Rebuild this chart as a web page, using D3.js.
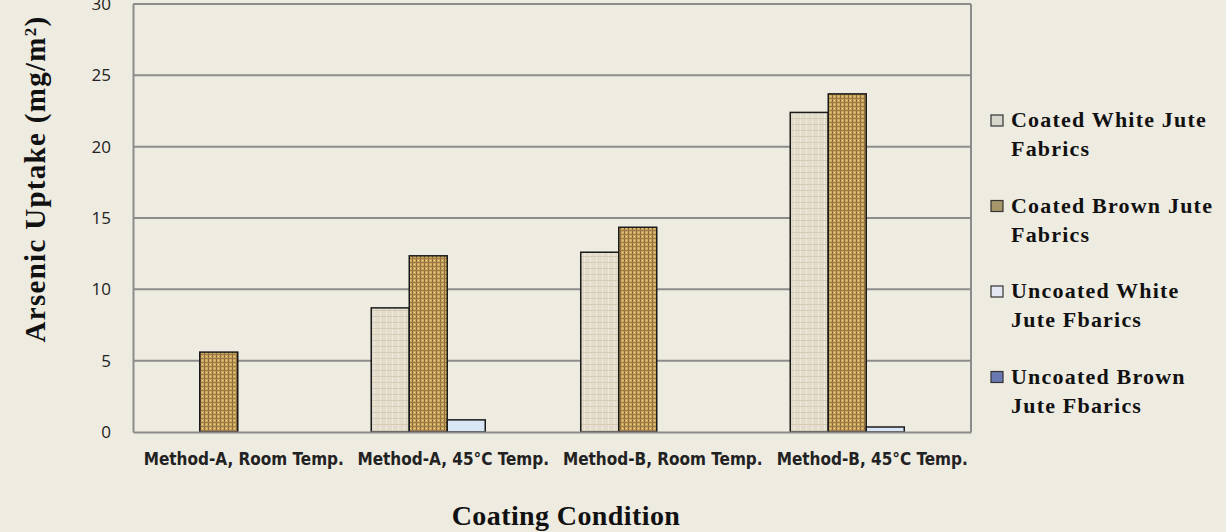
<!DOCTYPE html>
<html>
<head>
<meta charset="utf-8">
<script src="https://cdn.jsdelivr.net/npm/d3@7"></script>
<style>
  body { margin: 0; background: #eeebe1; }
  svg { display: block; }
</style>
</head>
<body>
<svg id="chart"></svg>
<script>
// chart values
var categories = ["Method-A, Room Temp.", "Method-A, 45°C Temp.", "Method-B, Room Temp.", "Method-B, 45°C Temp."];
var seriesNames = ["Coated White Jute Fabrics", "Coated Brown Jute Fabrics", "Uncoated White Jute Fbarics", "Uncoated Brown Jute Fbarics"];
var legendLines = [["Coated White Jute", "Fabrics"], ["Coated Brown Jute", "Fabrics"], ["Uncoated White", "Jute Fbarics"], ["Uncoated Brown", "Jute Fbarics"]];
var coatedWhite = [0, 8.7, 12.6, 22.4];
var coatedBrown = [5.6, 12.35, 14.35, 23.7];
var uncoatedWhite = [0, 0.85, 0, 0.35];
var uncoatedBrown = [0, 0, 0, 0];
var yTicks = [0, 5, 10, 15, 20, 25, 30];

var allSeries = [coatedWhite, coatedBrown, uncoatedWhite, uncoatedBrown];

var svg = d3.select("#chart");
var dims = { width: 1226, height: 532, left: 133, right: 971, top: 4, bottom: 432 };
svg.attr("width", dims.width).attr("height", dims.height);

//Textures for the bars
var defs = svg.append("defs");
var pw = defs.append("pattern").attr("id", "texWhite").attr("patternUnits", "userSpaceOnUse")
    .attr("width", 6).attr("height", 6);
pw.append("rect").attr("width", 6).attr("height", 6).attr("fill", "#e4dccb");
pw.append("rect").attr("x", 2).attr("width", 1).attr("height", 6).attr("fill", "#efeadf");
pw.append("rect").attr("y", 4).attr("width", 6).attr("height", 1).attr("fill", "#d6ccb6");

var pb = defs.append("pattern").attr("id", "texBrown").attr("patternUnits", "userSpaceOnUse")
    .attr("width", 4).attr("height", 4);
pb.append("rect").attr("width", 4).attr("height", 4).attr("fill", "#c9a85e");
pb.append("rect").attr("x", 0).attr("width", 1).attr("height", 4).attr("fill", "#8c6a3c");
pb.append("rect").attr("y", 2).attr("width", 4).attr("height", 1).attr("fill", "#a07a48");
pb.append("rect").attr("x", 2).attr("y", 0).attr("width", 1).attr("height", 1).attr("fill", "#e8d488");

var fills = ["url(#texWhite)", "url(#texBrown)", "#d8e6f6", "#5d6cae"];
var legendFills = ["#d8d5cb", "#a5976a", "#e4e8f2", "#6a78b2"];

//Scales
var x0 = d3.scaleBand().domain(categories).range([dims.left, dims.right]).padding(0);
var gap = x0.bandwidth() * 0.1372;
var x1 = d3.scaleBand().domain(d3.range(seriesNames.length))
    .range([gap, x0.bandwidth() - gap]).padding(0);
var y = d3.scaleLinear().domain([0, 30]).range([dims.bottom, dims.top]);

//Gridlines
svg.append("g").selectAll("line").data(yTicks.filter(t => t > 0)).enter().append("line")
    .attr("x1", dims.left).attr("x2", dims.right)
    .attr("y1", d => y(d)).attr("y2", d => y(d))
    .attr("stroke", "#8c8c8c").attr("stroke-width", 2);

//Right border of plot
svg.append("line").attr("x1", dims.right).attr("x2", dims.right)
    .attr("y1", dims.top).attr("y2", dims.bottom)
    .attr("stroke", "#8c8c8c").attr("stroke-width", 2);

//Bars
var barData = [];
categories.forEach((c, i) => {
    allSeries.forEach((s, j) => {
        if (s[i] > 0) barData.push({ cat: c, series: j, value: s[i] });
    });
});
svg.append("g").selectAll("rect").data(barData).enter().append("rect")
    .attr("x", d => x0(d.cat) + x1(d.series))
    .attr("y", d => y(d.value))
    .attr("width", x1.bandwidth())
    .attr("height", d => y(0) - y(d.value))
    .attr("fill", d => fills[d.series])
    .attr("stroke", "#1a1a1a").attr("stroke-width", 1.5);

//Axes
var yAxis = svg.append("g").attr("transform", `translate(${dims.left},0)`)
    .call(d3.axisLeft(y).tickValues(yTicks).tickSize(0).tickPadding(22));
yAxis.select(".domain").attr("stroke", "#8c8c8c").attr("stroke-width", 2);
yAxis.selectAll("text").attr("font-family", "Open Sans, sans-serif").attr("font-size", 17).attr("fill", "#222");

var xAxis = svg.append("g").attr("transform", `translate(0,${dims.bottom})`)
    .call(d3.axisBottom(x0).tickSize(0).tickPadding(21));
xAxis.select(".domain").attr("stroke", "#8c8c8c").attr("stroke-width", 2);
xAxis.selectAll("text").attr("font-family", "Liberation Sans Narrow, DejaVu Sans Condensed, sans-serif")
    .attr("font-weight", "bold").attr("font-size", 17).attr("fill", "#222")
    .attr("dx", 6);

//Axis titles
svg.append("text").attr("transform", "translate(45,179) rotate(-90)")
    .attr("text-anchor", "middle")
    .attr("font-family", "Liberation Serif, Times New Roman, serif")
    .attr("font-weight", "bold").attr("font-size", 29).attr("letter-spacing", 1.3).attr("fill", "#111")
    .text("Arsenic Uptake (mg/m")
    .append("tspan").attr("baseline-shift", "super").attr("font-size", 17).text("2")
    .select(function () { return this.parentNode; })
    .append("tspan").text(")");

svg.append("text").attr("x", 566).attr("y", 525)
    .attr("text-anchor", "middle")
    .attr("font-family", "Liberation Serif, Times New Roman, serif")
    .attr("font-weight", "bold").attr("font-size", 28).attr("letter-spacing", 0.4).attr("fill", "#111")
    .text("Coating Condition");

//Legend
var legend = svg.append("g").selectAll("g").data(seriesNames).enter().append("g")
    .attr("transform", (d, i) => `translate(991,${127 + i * 85.5})`);
legend.append("rect").attr("x", 0).attr("y", -12).attr("width", 12).attr("height", 11)
    .attr("fill", (d, i) => legendFills[i]).attr("stroke", "#333").attr("stroke-width", 1.2);
legend.each(function (d, i) {
    var t = d3.select(this).append("text")
        .attr("font-family", "Liberation Serif, Times New Roman, serif")
        .attr("font-weight", "bold").attr("font-size", 22).attr("letter-spacing", 1.2).attr("fill", "#111");
    legendLines[i].forEach((line, k) => {
        t.append("tspan").attr("x", 20).attr("y", k * 29).text(line);
    });
});
</script>
</body>
</html>
